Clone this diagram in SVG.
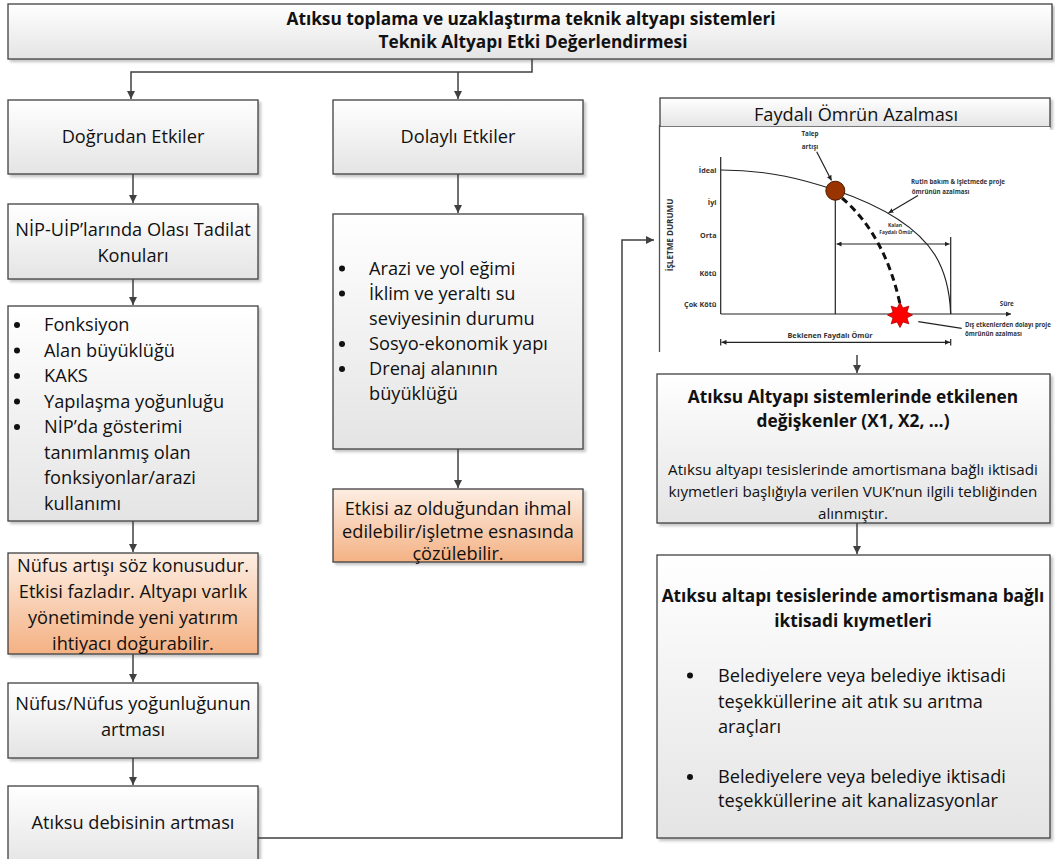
<svg xmlns="http://www.w3.org/2000/svg" width="1055" height="859" viewBox="0 0 1055 859">
  <defs>
    <linearGradient id="gGray" x1="0" y1="0" x2="0" y2="1">
      <stop offset="0" stop-color="#ffffff"/>
      <stop offset="1" stop-color="#e4e4e4"/>
    </linearGradient>
    <linearGradient id="gOrange" x1="0" y1="0" x2="0" y2="1">
      <stop offset="0" stop-color="#fdeee3"/>
      <stop offset="1" stop-color="#f4b183"/>
    </linearGradient>
    <filter id="shadow" x="-5%" y="-5%" width="110%" height="115%">
      <feDropShadow dx="2.5" dy="2.5" stdDeviation="1.2" flood-color="#000" flood-opacity="0.22"/>
    </filter>
    <marker id="arr" viewBox="0 0 10 10" refX="10" refY="5" markerWidth="8" markerHeight="8" markerUnits="userSpaceOnUse" orient="auto">
      <path d="M0,0 L10,5 L0,10 Z" fill="#404040"/>
    </marker>
    <marker id="arrS" viewBox="0 0 10 10" refX="10" refY="5" markerWidth="5" markerHeight="5" markerUnits="userSpaceOnUse" orient="auto-start-reverse">
      <path d="M0,0 L10,5 L0,10 Z" fill="#222"/>
    </marker>
  </defs>
  <style>
    .box { fill: url(#gGray); stroke: #404040; stroke-width: 1.3; filter: url(#shadow); }
    .obox { fill: url(#gOrange); stroke: #404040; stroke-width: 1.3; filter: url(#shadow); }
    .t { font-family: "Open Sans", "Liberation Sans", sans-serif; font-size: 18.2px; fill: #111; }
    .c { text-anchor: middle; }
    .b { font-weight: bold; font-size: 17.3px; }
    .sm { font-size: 15.2px; }
    .conn { fill: none; stroke: #404040; stroke-width: 1.5; }
    .dot { fill: #111; }
    .ct { font-family: "Open Sans", "Liberation Sans", sans-serif; font-weight: bold; fill: #333; }
    .ln { fill: none; stroke: #222; stroke-width: 1.2; }
  </style>

  <!-- header -->
  <g id="header">
    <rect class="box" x="8" y="4" width="1044" height="55"/>
    <text class="t c b" x="531" y="24.5">Atıksu toplama ve uzaklaştırma teknik altyapı sistemleri</text>
    <text class="t c b" x="533" y="48">Teknik Altyapı Etki Değerlendirmesi</text>
  </g>

  <!-- left column -->
  <g id="dogrudan">
    <rect class="box" x="8" y="100" width="250" height="74"/>
    <text class="t c" x="133" y="143">Doğrudan Etkiler</text>
  </g>
  <g id="nip-uip">
    <rect class="box" x="8" y="204" width="250" height="75"/>
    <text class="t c" x="133" y="236">NİP-UİP’larında Olası Tadilat</text>
    <text class="t c" x="133" y="262">Konuları</text>
  </g>
  <g id="tadilat-list">
    <rect class="box" x="8" y="306" width="250" height="215"/>
    <circle class="dot" cx="17" cy="325" r="3"/>
    <circle class="dot" cx="17" cy="350.5" r="3"/>
    <circle class="dot" cx="17" cy="376" r="3"/>
    <circle class="dot" cx="17" cy="401.5" r="3"/>
    <circle class="dot" cx="17" cy="427" r="3"/>
    <text class="t" x="44" y="331">Fonksiyon</text>
    <text class="t" x="44" y="356.5">Alan büyüklüğü</text>
    <text class="t" x="44" y="382">KAKS</text>
    <text class="t" x="44" y="407.5">Yapılaşma yoğunluğu</text>
    <text class="t" x="44" y="433">NİP’da gösterimi</text>
    <text class="t" x="44" y="458.5">tanımlanmış olan</text>
    <text class="t" x="44" y="484">fonksiyonlar/arazi</text>
    <text class="t" x="44" y="509.5">kullanımı</text>
  </g>
  <g id="nufus-artisi">
    <rect class="obox" x="8" y="553" width="250" height="101"/>
    <text class="t c" x="133" y="571.5">Nüfus artışı söz konusudur.</text>
    <text class="t c" x="133" y="597.5">Etkisi fazladır. Altyapı varlık</text>
    <text class="t c" x="133" y="623.5">yönetiminde yeni yatırım</text>
    <text class="t c" x="133" y="649.5">ihtiyacı doğurabilir.</text>
  </g>
  <g id="nufus-yogunlugu">
    <rect class="box" x="8" y="683" width="250" height="75"/>
    <text class="t c" x="133" y="709.5">Nüfus/Nüfus yoğunluğunun</text>
    <text class="t c" x="133" y="736">artması</text>
  </g>
  <g id="debi">
    <rect class="box" x="8" y="786" width="250" height="80"/>
    <text class="t c" x="133" y="829">Atıksu debisinin artması</text>
  </g>

  <!-- middle column -->
  <g id="dolayli">
    <rect class="box" x="333" y="100" width="250" height="74"/>
    <text class="t c" x="458" y="143">Dolaylı Etkiler</text>
  </g>
  <g id="dolayli-list">
    <rect class="box" x="333" y="214" width="250" height="235"/>
    <circle class="dot" cx="342" cy="268.5" r="3"/>
    <circle class="dot" cx="342" cy="293.5" r="3"/>
    <circle class="dot" cx="342" cy="344" r="3"/>
    <circle class="dot" cx="342" cy="369" r="3"/>
    <text class="t" x="369" y="274.5">Arazi ve yol eğimi</text>
    <text class="t" x="369" y="299.5">İklim ve yeraltı su</text>
    <text class="t" x="369" y="324.5">seviyesinin durumu</text>
    <text class="t" x="369" y="350">Sosyo-ekonomik yapı</text>
    <text class="t" x="369" y="375">Drenaj alanının</text>
    <text class="t" x="369" y="399.5">büyüklüğü</text>
  </g>
  <g id="ihmal">
    <rect class="obox" x="333" y="489" width="250" height="73"/>
    <text class="t c" x="458" y="514.5">Etkisi az olduğundan ihmal</text>
    <text class="t c" x="458" y="538">edilebilir/işletme esnasında</text>
    <text class="t c" x="458" y="560">çözülebilir.</text>
  </g>

  <!-- right column: service life chart -->
  <g id="faydali-omur">
    <rect class="box" x="660" y="98" width="390" height="29"/>
    <text class="t c" x="856" y="120.5">Faydalı Ömrün Azalması</text>
    <rect x="660" y="127" width="390" height="226" fill="#ffffff"/>
    <line x1="659.5" y1="125" x2="659.5" y2="352" stroke="#555" stroke-width="1.3"/>
    <!-- axes -->
    <line class="ln" x1="720.7" y1="157" x2="720.7" y2="314" stroke-width="1.6"/>
    <line class="ln" x1="720.7" y1="314" x2="1011" y2="314" stroke-width="1.6" marker-end="url(#arrS)"/>
    <text class="ct" x="670" y="235" font-size="8.1" text-anchor="middle" transform="rotate(-90 670 235)" dy="3">İŞLETME DURUMU</text>
    <g class="ct" font-size="7.2" text-anchor="end">
      <text x="716.5" y="172.5">İdeal</text>
      <text x="716.5" y="205">İyi</text>
      <text x="716.5" y="237.5">Orta</text>
      <text x="716.5" y="275.5">Kötü</text>
      <text x="716.5" y="306.5">Çok Kötü</text>
    </g>
    <!-- deterioration curve -->
    <path class="ln" d="M721,170 C770,170 805,180 835,190 C885,207 918,228 935,255 C946,273 950,295 950.7,314"/>
    <line class="ln" x1="835.3" y1="199" x2="835.3" y2="314"/>
    <line class="ln" x1="950.7" y1="237" x2="950.7" y2="314"/>
    <line class="ln" x1="836.5" y1="244" x2="949.5" y2="244" marker-start="url(#arrS)" marker-end="url(#arrS)"/>
    <text class="ct" x="895" y="227" font-size="5" text-anchor="middle">Kalan</text>
    <text class="ct" x="896" y="233.5" font-size="5" text-anchor="middle">Faydalı Ömür</text>
    <!-- accelerated decline -->
    <path d="M842,198 Q885,235 900,304" fill="none" stroke="#111" stroke-width="3" stroke-dasharray="7,4.5"/>
    <circle cx="835.3" cy="190.7" r="9.5" fill="#993300" stroke="#4d1a00" stroke-width="1"/>
    <polygon points="900,302.5 902.87,308.07 908.84,306.16 906.93,312.13 912.5,315 906.93,317.87 908.84,323.84 902.87,321.93 900,327.5 897.13,321.93 891.16,323.84 893.07,317.87 887.5,315 893.07,312.13 891.16,306.16 897.13,308.07" fill="#ff0000" stroke="#b00000" stroke-width="0.8"/>
    <!-- annotations -->
    <text class="ct" x="810" y="136" font-size="6.3" text-anchor="middle">Talep</text>
    <text class="ct" x="810" y="149" font-size="6.3" text-anchor="middle">artışı</text>
    <line class="ln" x1="816.7" y1="151.7" x2="831.5" y2="180.5" marker-end="url(#arrS)"/>
    <text class="ct" x="958" y="184" font-size="6.2" text-anchor="middle">Rutin bakım &amp; işletmede proje</text>
    <text class="ct" x="911.7" y="193.5" font-size="6.2">ömrünün azalması</text>
    <line class="ln" x1="918" y1="195.5" x2="888.5" y2="213" marker-end="url(#arrS)"/>
    <text class="ct" x="1006.7" y="305.5" font-size="6.2" text-anchor="middle">Süre</text>
    <line class="ln" x1="918.3" y1="321.7" x2="961.7" y2="328.3"/>
    <text class="ct" x="965" y="327" font-size="6.1">Dış etkenlerden dolayı proje</text>
    <text class="ct" x="965" y="336" font-size="6.1">ömrünün azalması</text>
    <text class="ct" x="830" y="338" font-size="7.3" text-anchor="middle">Beklenen Faydalı Ömür</text>
    <line class="ln" x1="721.5" y1="342.3" x2="950" y2="342.3" marker-start="url(#arrS)" marker-end="url(#arrS)"/>
    <line class="ln" x1="720.7" y1="339" x2="720.7" y2="345.6"/>
    <line class="ln" x1="950.7" y1="339" x2="950.7" y2="345.6"/>
  </g>

  <g id="degiskenler">
    <rect class="box" x="657" y="374" width="393" height="149"/>
    <text class="t c b" x="853" y="403">Atıksu Altyapı sistemlerinde etkilenen</text>
    <text class="t c b" x="853" y="427">değişkenler (X1, X2, …)</text>
    <text class="t c sm" x="853" y="475">Atıksu altyapı tesislerinde amortismana bağlı iktisadi</text>
    <text class="t c sm" x="853" y="497">kıymetleri başlığıyla verilen VUK’nun ilgili tebliğinden</text>
    <text class="t c sm" x="853" y="518.5">alınmıştır.</text>
  </g>
  <g id="iktisadi-kiymetler">
    <rect class="box" x="657" y="555" width="393" height="283"/>
    <text class="t c b" x="853" y="601.5">Atıksu altapı tesislerinde amortismana bağlı</text>
    <text class="t c b" x="853" y="626.5">iktisadi kıymetleri</text>
    <circle class="dot" cx="690" cy="675.5" r="3"/>
    <circle class="dot" cx="690" cy="777" r="3"/>
    <text class="t" x="718" y="681.5">Belediyelere veya belediye iktisadi</text>
    <text class="t" x="718" y="707.5">teşekküllerine ait atık su arıtma</text>
    <text class="t" x="718" y="733">araçları</text>
    <text class="t" x="718" y="783">Belediyelere veya belediye iktisadi</text>
    <text class="t" x="718" y="807">teşekküllerine ait kanalizasyonlar</text>
  </g>

  <!-- connectors -->
  <g id="connectors">
    <path class="conn" d="M532,59 V72 H131 V99" marker-end="url(#arr)"/>
    <path class="conn" d="M458,72 V99" marker-end="url(#arr)"/>
    <path class="conn" d="M133,174 V203" marker-end="url(#arr)"/>
    <path class="conn" d="M133,279 V305" marker-end="url(#arr)"/>
    <path class="conn" d="M133,521 V552" marker-end="url(#arr)"/>
    <path class="conn" d="M133,654 V682" marker-end="url(#arr)"/>
    <path class="conn" d="M133,758 V785" marker-end="url(#arr)"/>
    <path class="conn" d="M458,174 V213" marker-end="url(#arr)"/>
    <path class="conn" d="M458,449 V488" marker-end="url(#arr)"/>
    <path class="conn" d="M258,838 H622 V240 H654" marker-end="url(#arr)"/>
    <path class="conn" d="M857,355 V373" marker-end="url(#arr)"/>
    <path class="conn" d="M857,523 V554" marker-end="url(#arr)"/>
  </g>
</svg>
